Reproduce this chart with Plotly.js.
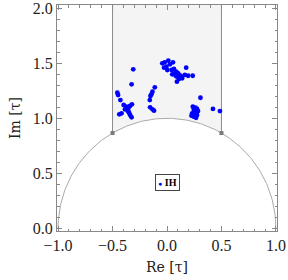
<!DOCTYPE html>
<html>
<head>
<meta charset="utf-8">
<script src="https://cdn.plot.ly/plotly-3.0.1.min.js"></script>
<style>html,body{margin:0;padding:0;background:#fff;}#chart{width:288px;height:280px;}</style>
</head>
<body>
<div id="chart"></div>
<script>
// IH points: Re[tau], Im[tau]
const reTau = [
  -0.043, -0.021, 0.012, 0.027, -0.006, -0.027, 0.055, 0.003, 0.043, 0.064,
  0.085, 0.073, 0.103, 0.125, 0.094, 0.109, 0.139, 0.164, 0.176, 0.194,
  0.236, 0.048, 0.079, 0.091,
  -0.310, -0.325, -0.456, -0.449, -0.428, -0.398, -0.371, -0.353, -0.340, -0.322,
  -0.386, -0.362, -0.353, -0.346, -0.417, -0.438, -0.337, -0.325,
  -0.112, -0.134, -0.143, -0.152, -0.158, -0.155, -0.134, -0.119,
  0.307, 0.237, 0.262, 0.276, 0.246, 0.267, 0.285, 0.231, 0.255, 0.276,
  0.225, 0.246, 0.267, 0.422, 0.486
];
const imTau = [
  1.500, 1.509, 1.525, 1.491, 1.469, 1.460, 1.509, 1.439, 1.439, 1.448,
  1.424, 1.409, 1.409, 1.387, 1.378, 1.357, 1.364, 1.394, 1.460, 1.387,
  1.387, 1.400, 1.387, 1.333,
  1.445, 1.309, 1.233, 1.212, 1.166, 1.121, 1.105, 1.096, 1.112, 1.127,
  1.082, 1.069, 1.060, 1.045, 1.045, 1.036, 1.027, 1.009,
  1.282, 1.242, 1.218, 1.203, 1.166, 1.100, 1.082, 1.069,
  1.187, 1.105, 1.096, 1.085, 1.075, 1.060, 1.066, 1.045, 1.036, 1.030,
  1.024, 1.015, 1.005, 1.085, 1.066
];
const xTickVals = [-1.0, -0.5, 0.0, 0.5, 1.0];
const xTickText = ["\u22121.0", "\u22120.5", "0.0", "0.5", "1.0"];
const yTickVals = [0.0, 0.5, 1.0, 1.5, 2.0];
const yTickText = ["0.0", "0.5", "1.0", "1.5", "2.0"];
const seriesName = "IH";

// fundamental domain boundary (geometry)
const fx = [], fy = [];
for (let i = 0; i <= 60; i++) {
  const x = -0.5 + i / 60;
  fx.push(x); fy.push(Math.sqrt(1 - x * x));
}
fx.push(0.5, -0.5, -0.5); fy.push(2.2, 2.2, Math.sqrt(0.75));
const cx = [], cy = [];
for (let i = 0; i <= 180; i++) {
  const a = Math.PI * i / 180;
  cx.push(Math.cos(a)); cy.push(Math.sin(a));
}
const h = Math.sqrt(0.75);

const traces = [
  {x: fx, y: fy, mode: 'lines', fill: 'toself', fillcolor: '#f4f4f4', line: {width: 0, color: 'rgba(0,0,0,0)'}, hoverinfo: 'skip'},
  {x: cx, y: cy, mode: 'lines', line: {color: '#aaaaaa', width: 1}, hoverinfo: 'skip'},
  {x: [-0.5, -0.5], y: [h, 2.2], mode: 'lines', line: {color: '#8c8c8c', width: 1}, hoverinfo: 'skip'},
  {x: [0.5, 0.5], y: [h, 2.2], mode: 'lines', line: {color: '#8c8c8c', width: 1}, hoverinfo: 'skip'},
  {x: [-0.5, 0.5], y: [h, h], mode: 'markers', marker: {symbol: 'square', size: 4, color: '#7a7a7a'}, hoverinfo: 'skip'},
  {x: reTau, y: imTau, name: seriesName, mode: 'markers', marker: {color: '#0000ff', size: 4.8}}
];

const axisCommon = {
  showgrid: false, zeroline: false, showline: true, linecolor: '#888888', linewidth: 1,
  mirror: 'allticks', ticks: 'inside', ticklen: 5, tickcolor: '#888888', tickwidth: 1,
  tickmode: 'array', fixedrange: true, ticklabeloverflow: 'allow',
  tickfont: {family: 'Liberation Serif', size: 16, color: '#222222'},
  minor: {dtick: 0.1, ticks: 'inside', ticklen: 2.5, tickcolor: '#888888', tickwidth: 1, showgrid: false}
};

const layout = {
  width: 288, height: 280,
  margin: {l: 57, r: 11, t: 5, b: 49},
  paper_bgcolor: '#ffffff', plot_bgcolor: '#ffffff',
  showlegend: false,
  xaxis: Object.assign({}, axisCommon, {
    range: [-1.01, 1.01], tickvals: xTickVals, ticktext: xTickText,
    title: {text: 'Re [\u03c4]', font: {family: 'DejaVu Serif', size: 14, color: '#222222'}, standoff: 8}
  }),
  yaxis: Object.assign({}, axisCommon, {
    range: [-0.0245, 2.03], tickvals: yTickVals, ticktext: yTickText,
    title: {text: 'Im [\u03c4]', font: {family: 'DejaVu Serif', size: 14, color: '#222222'}, standoff: 8}
  }),
  annotations: [{
    x: 0.5, y: 0.213, xref: 'paper', yref: 'paper', xanchor: 'center', yanchor: 'middle',
    text: '<span style="color:#0000ff;font-size:7px">\u25cf</span> <b>' + seriesName + '</b>',
    showarrow: false, font: {family: 'Liberation Serif', size: 10, color: '#000000'},
    bordercolor: '#444444', borderwidth: 1, borderpad: 2, bgcolor: '#ffffff'
  }]
};

Plotly.newPlot('chart', traces, layout, {displayModeBar: false, staticPlot: true});
</script>
</body>
</html>
